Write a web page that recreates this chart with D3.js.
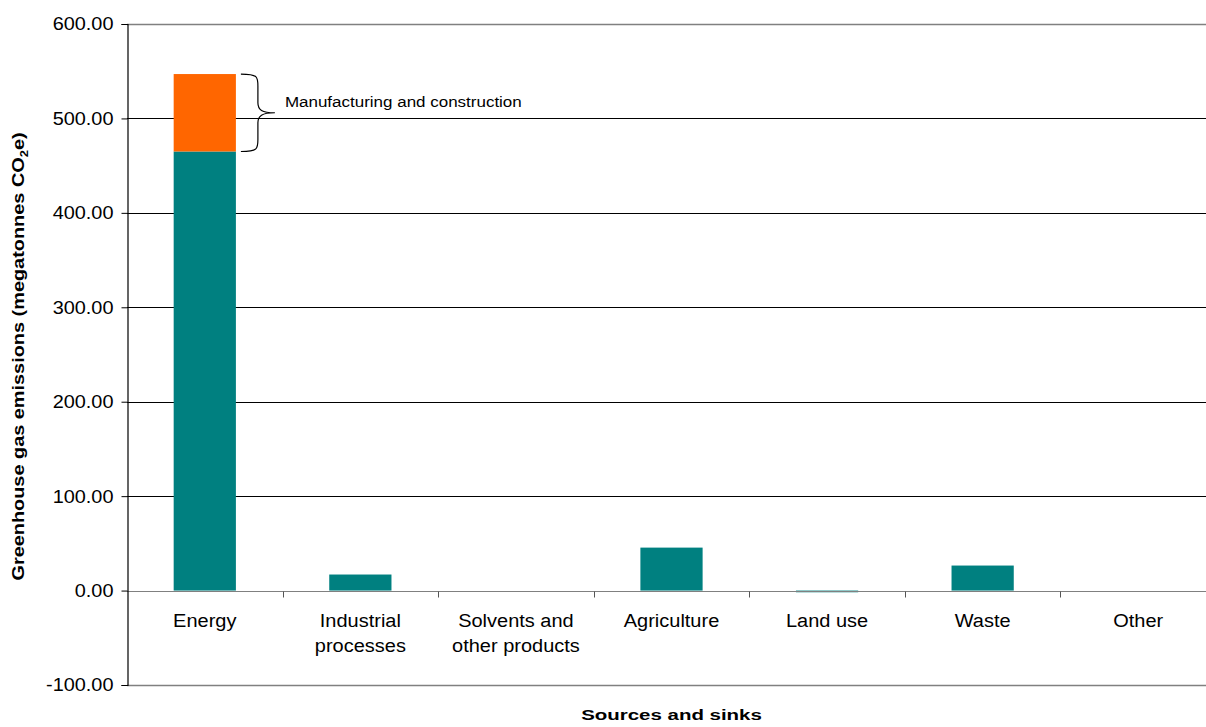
<!DOCTYPE html>
<html>
<head>
<meta charset="utf-8">
<script src="https://cdn.jsdelivr.net/npm/d3@7"></script>
<style>
  body { margin: 0; background: #fff; }
  text { font-family: "Liberation Sans", Arial, sans-serif; fill: #000; }
</style>
</head>
<body>
<div id="chart"></div>
<script>
// categories and values (megatonnes CO2e)
const categories = ['Energy', 'Industrial processes', 'Solvents and other products', 'Agriculture', 'Land use', 'Waste', 'Other'];
const catLines = [['Energy'], ['Industrial', 'processes'], ['Solvents and', 'other products'], ['Agriculture'], ['Land use'], ['Waste'], ['Other']];
const baseValues = [465, 17, 0, 45.5, -1.8, 26.5, 0];
const manufacturing = [82, 0, 0, 0, 0, 0, 0];
const yTicks = [-100, 0, 100, 200, 300, 400, 500, 600];

const width = 1206, height = 727;
const margin = { top: 24, right: -10, bottom: 42, left: 127 };

// text in the original is drawn a little wider than its height would suggest
const stretch = { tick: 1.07, cat: 1.075, xTitle: 1.32, yTitle: 1.17, note: 1.18 };

const svg = d3.select('#chart').append('svg').attr('width', width).attr('height', height);

const x = d3.scaleBand()
  .domain(categories)
  .range([margin.left, width - margin.right])
  .paddingInner(0.6)
  .paddingOuter(0.3);

const y = d3.scaleLinear()
  .domain([-100, 600])
  .range([height - margin.bottom, margin.top]);

const step = x.step();
const bandStart = (c) => x(c) - step * 0.3;
const plotMidX = (margin.left + width - margin.right) / 2;

const locale = d3.formatLocale({ decimal: '.', thousands: ',', grouping: [3], currency: ['', ''], minus: '-' });

// gridlines
svg.append('g')
  .selectAll('line')
  .data(yTicks)
  .enter()
  .append('line')
  .attr('x1', margin.left)
  .attr('x2', width)
  .attr('y1', (d) => Math.round(y(d)) + 0.5)
  .attr('y2', (d) => Math.round(y(d)) + 0.5)
  .attr('stroke', (d) => (d === 600 || d === -100 || d === 0 ? '#808080' : '#000'))
  .attr('stroke-width', (d) => (d === 600 || d === -100 ? 1.5 : 1));

// stacked bars
svg.append('g')
  .selectAll('rect')
  .data(categories.map((c, i) => ({ c, v: baseValues[i] })).filter((d) => d.v !== 0))
  .enter()
  .append('rect')
  .attr('x', (d) => x(d.c))
  .attr('width', x.bandwidth())
  .attr('y', (d) => y(Math.max(0, d.v)))
  .attr('height', (d) => Math.abs(y(d.v) - y(0)))
  .attr('fill', '#008080');

svg.append('g')
  .selectAll('rect')
  .data(categories.map((c, i) => ({ c, b: baseValues[i], v: manufacturing[i] })).filter((d) => d.v > 0))
  .enter()
  .append('rect')
  .attr('x', (d) => x(d.c))
  .attr('width', x.bandwidth())
  .attr('y', (d) => y(d.b + d.v))
  .attr('height', (d) => y(d.b) - y(d.b + d.v))
  .attr('fill', '#FF6600');

// zero line drawn over bars, with category ticks
const y0 = Math.round(y(0)) + 0.5;
svg.append('line')
  .attr('x1', margin.left).attr('x2', width)
  .attr('y1', y0).attr('y2', y0)
  .attr('stroke', '#808080');

svg.append('g')
  .selectAll('line')
  .data(categories.slice(1))
  .enter()
  .append('line')
  .attr('x1', (c) => Math.round(bandStart(c)) + 0.5)
  .attr('x2', (c) => Math.round(bandStart(c)) + 0.5)
  .attr('y1', y0)
  .attr('y2', y0 + 6)
  .attr('stroke', '#555');

// category labels
const catG = svg.append('g');
categories.forEach((c, i) => {
  const t = catG.append('g')
    .attr('transform', `translate(${x(c) + x.bandwidth() / 2},${y(0) + 36.5}) scale(${stretch.cat},1)`)
    .append('text')
    .attr('text-anchor', 'middle')
    .style('font-size', '18.6px');
  catLines[i].forEach((line, j) => {
    t.append('tspan')
      .attr('x', 0)
      .attr('dy', j === 0 ? 0 : 24.5)
      .text(line);
  });
});

// y axis
const yAxis = svg.append('g')
  .attr('transform', `translate(${margin.left + 0.5},0)`)
  .call(d3.axisLeft(y).tickValues(yTicks).tickFormat(locale.format('.2f')).tickSize(6).tickPadding(8));
yAxis.select('.domain').attr('stroke', '#000').attr('stroke-width', 1.2);
yAxis.selectAll('.tick line').attr('stroke', '#000');
yAxis.selectAll('.tick text')
  .attr('x', 0)
  .attr('transform', `translate(-14,0) scale(${stretch.tick},1)`)
  .style('font-size', '18.6px')
  .style('font-family', '"Liberation Sans", Arial, sans-serif')
  .attr('fill', '#000');

// axis titles
svg.append('g')
  .attr('transform', `translate(${plotMidX},720) scale(${stretch.xTitle},1)`)
  .append('text')
  .attr('text-anchor', 'middle')
  .style('font-size', '15.5px')
  .style('font-weight', 'bold')
  .text('Sources and sinks');

const yt = svg.append('g')
  .attr('transform', `translate(24,${(margin.top + height - margin.bottom) / 2 + 2}) rotate(-90) scale(${stretch.yTitle},1)`)
  .append('text')
  .attr('text-anchor', 'middle')
  .style('font-size', '17px')
  .style('font-weight', 'bold');
yt.append('tspan').text('Greenhouse gas emissions (megatonnes CO');
yt.append('tspan').attr('dy', 4).style('font-size', '11px').text('2');
yt.append('tspan').attr('dy', -4).text('e)');

// brace annotation around manufacturing segment
const bx = x('Energy') + x.bandwidth() + 5;
const braceTop = y(baseValues[0] + manufacturing[0]);
const braceBot = y(baseValues[0]);
const mid = (braceTop + braceBot) / 2;
const bw = 17;
svg.append('path')
  .attr('d', `M${bx},${braceTop} C${bx + bw},${braceTop} ${bx + bw},${braceTop + 3} ${bx + bw},${braceTop + 12}
    L${bx + bw},${mid - 10} C${bx + bw},${mid - 3} ${bx + bw + 4},${mid} ${bx + bw * 2},${mid}
    C${bx + bw + 4},${mid} ${bx + bw},${mid + 3} ${bx + bw},${mid + 10}
    L${bx + bw},${braceBot - 12} C${bx + bw},${braceBot - 3} ${bx + bw},${braceBot} ${bx},${braceBot}`)
  .attr('fill', 'none')
  .attr('stroke', '#000')
  .attr('stroke-width', 1.2);

svg.append('g')
  .attr('transform', `translate(${bx + bw * 2 + 10},${mid - 5.5}) scale(${stretch.note},1)`)
  .append('text')
  .style('font-size', '14.4px')
  .text('Manufacturing and construction');
</script>
</body>
</html>
